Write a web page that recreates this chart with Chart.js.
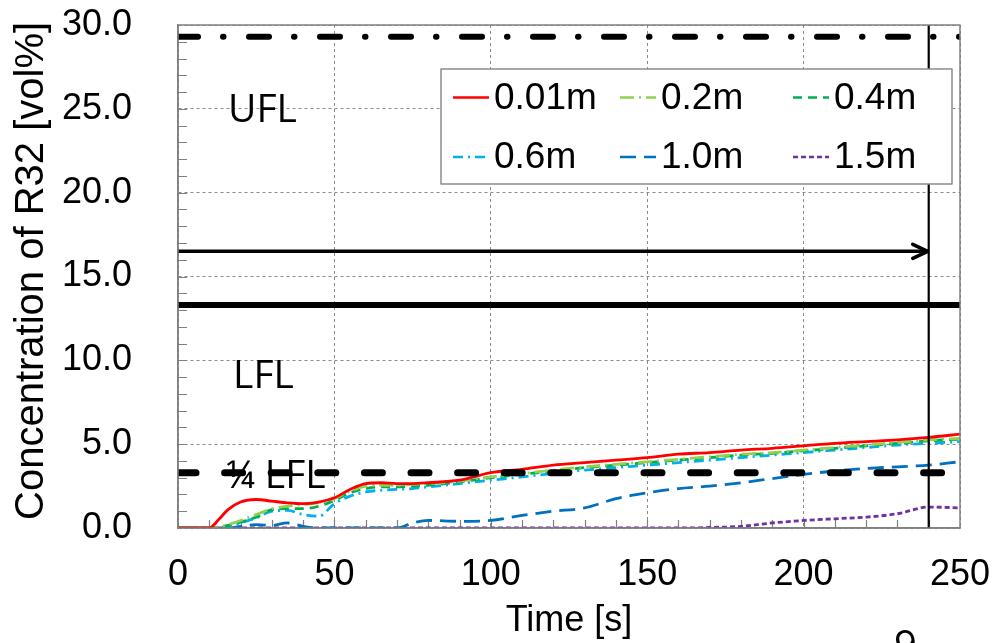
<!DOCTYPE html>
<html>
<head>
<meta charset="utf-8">
<script src="https://cdn.jsdelivr.net/npm/chart.js@4.4.1/dist/chart.umd.min.js"></script>
<style>
  html, body { margin: 0; padding: 0; background: #fff; }
</style>
</head>
<body>
<canvas id="chart" width="1005" height="643"></canvas>
<script>
// ─── data ────────────────────────────────────────────────────────────────────
const timeS = [0, 10, 13, 16, 20, 25, 30, 35, 40, 45, 50, 55, 60, 65, 70, 75, 80, 90, 100,
  110, 120, 130, 140, 150, 160, 170, 180, 190, 200, 210, 220, 230, 240, 250];

const c001 = [0, 0, 0.5, 1.1, 1.55, 1.7, 1.6, 1.5, 1.45, 1.55, 1.8, 2.3, 2.65, 2.7, 2.65, 2.65, 2.7, 2.85, 3.3,
  3.5, 3.75, 3.9, 4.05, 4.2, 4.4, 4.5, 4.65, 4.75, 4.9, 5.05, 5.15, 5.25, 5.4, 5.6];
const c02 = [0, 0, 0.05, 0.2, 0.45, 0.8, 1.15, 1.3, 1.4, 1.5, 1.75, 2.2, 2.5, 2.55, 2.55, 2.6, 2.65, 2.8, 3.05,
  3.25, 3.45, 3.65, 3.8, 3.95, 4.1, 4.25, 4.4, 4.5, 4.65, 4.8, 4.95, 5.1, 5.25, 5.35];
const c04 = [0, 0, 0.05, 0.15, 0.35, 0.65, 1.1, 1.15, 1.15, 1.3, 1.65, 2.1, 2.35, 2.45, 2.45, 2.5, 2.55, 2.75, 3.0,
  3.2, 3.4, 3.6, 3.75, 3.9, 4.05, 4.2, 4.35, 4.45, 4.6, 4.75, 4.9, 5.05, 5.2, 5.3];
const c06 = [0, 0, 0, 0.05, 0.3, 0.6, 1.0, 1.05, 0.8, 0.7, 1.45, 1.9, 2.15, 2.25, 2.3, 2.35, 2.45, 2.65, 2.85,
  3.05, 3.25, 3.45, 3.6, 3.75, 3.9, 4.05, 4.2, 4.35, 4.5, 4.65, 4.8, 4.95, 5.05, 5.15];
const c10 = [0, 0, 0, 0, 0.1, 0.2, 0.15, 0.3, 0.1, 0, 0, 0, 0, 0, 0, 0.3, 0.45, 0.4, 0.45,
  0.75, 1.0, 1.2, 1.75, 2.1, 2.35, 2.5, 2.7, 2.95, 3.2, 3.4, 3.55, 3.65, 3.75, 3.95];
const c15 = [0, 0, 0, 0, 0, 0, 0, 0, 0, 0, 0, 0, 0, 0, 0, 0, 0, 0, 0,
  0, 0, 0, 0, 0, 0, 0.03, 0.1, 0.3, 0.45, 0.55, 0.65, 0.85, 1.25, 1.2];

const seriesLabels = ['0.01m', '0.2m', '0.4m', '0.6m', '1.0m', '1.5m'];
const seriesVals = [c001, c02, c04, c06, c10, c15];

const uflLevel = 29.3;      // UFL
const lflLevel = 13.3;      // LFL
const quarterLfl = 3.3;     // 1/4 LFL
const arrowLevel = 16.5;
const markerTime = 240;
const xMax = 250, yMax = 30;

const zoneLabels = ['UFL', 'LFL', '¼ LFL'];

// ─── styles ──────────────────────────────────────────────────────────────────
const FONT = '"Liberation Sans", Arial, sans-serif';
const seriesStyle = [
  { color: '#ff0000', dash: [] },
  { color: '#92d050', dash: [14, 5, 2, 5] },
  { color: '#00b050', dash: [9, 6] },
  { color: '#00b0f0', dash: [10, 5, 2, 5] },
  { color: '#0070c0', dash: [16, 8] },
  { color: '#7030a0', dash: [5, 3] },
];

const pts = vals => timeS.map((t, i) => ({ x: t, y: vals[i] }));

const datasets = seriesLabels.map((lab, i) => ({
  label: lab,
  data: pts(seriesVals[i]),
  borderColor: seriesStyle[i].color,
  borderDash: seriesStyle[i].dash,
  borderWidth: 2.8,
  pointRadius: 0,
  cubicInterpolationMode: 'monotone',
  fill: false,
  order: 2,
  isSeries: true,
}));

function refLine(label, data, width, dash, cap) {
  return { label, data, borderColor: '#000', borderWidth: width, borderDash: dash,
    borderCapStyle: cap || 'butt', pointRadius: 0, fill: false, order: 1 };
}
datasets.push(refLine('UFL', [{ x: 0, y: uflLevel }, { x: xMax, y: uflLevel }], 6, [20, 25, 0.5, 25.5], 'round'));
datasets.push(refLine('LFL', [{ x: 0, y: lflLevel }, { x: xMax, y: lflLevel }], 6, []));
datasets.push(refLine('quarter', [{ x: 0, y: quarterLfl }, { x: xMax, y: quarterLfl }], 7, [18, 28.6], 'round'));
datasets.push(refLine('arrow', [{ x: 0, y: arrowLevel }, { x: markerTime, y: arrowLevel }], 3.5, []));
datasets.push(refLine('marker', [{ x: markerTime, y: 0 }, { x: markerTime, y: yMax }], 2.2, []));
const ARROW_IDX = datasets.findIndex(d => d.label === 'arrow');

// ─── plugins ─────────────────────────────────────────────────────────────────
const whiteBg = {
  id: 'whiteBg',
  beforeDraw(chart) {
    const { ctx, width, height } = chart;
    ctx.save(); ctx.fillStyle = '#fff'; ctx.fillRect(0, 0, width, height); ctx.restore();
  }
};

// minor ticks (inside) + zone labels, under the lines
const underlay = {
  id: 'underlay',
  beforeDatasetsDraw(chart) {
    const { ctx, chartArea: a, scales: { x, y } } = chart;
    ctx.save();
    ctx.strokeStyle = '#7f7f7f'; ctx.lineWidth = 1.2;
    ctx.beginPath();
    for (let v = 1; v < yMax; v++) {
      const py = Math.round(y.getPixelForValue(v)) + 0.5;
      ctx.moveTo(a.left, py); ctx.lineTo(a.left + 9, py);
    }
    for (let t = 10; t < xMax; t += 10) {
      const px = Math.round(x.getPixelForValue(t)) + 0.5;
      ctx.moveTo(px, a.bottom); ctx.lineTo(px, a.bottom - 8);
    }
    ctx.stroke();

    ctx.fillStyle = '#000';
    ctx.font = '39px "Open Sans", "Noto Sans", sans-serif';
    ctx.textBaseline = 'alphabetic';
    const at = [[16, 24.2], [17.6, 8.35], [15.3, 2.4]];
    zoneLabels.forEach((s, i) => {
      ctx.fillText(s, x.getPixelForValue(at[i][0]), y.getPixelForValue(at[i][1]));
    });
    ctx.restore();
  }
};

const overlay = {
  id: 'overlay',
  afterDatasetsDraw(chart) {
    const { ctx, chartArea: a } = chart;
    ctx.save();
    // arrow head
    const meta = chart.getDatasetMeta(ARROW_IDX);
    const p = meta.data[meta.data.length - 1];
    ctx.strokeStyle = '#000'; ctx.lineWidth = 3.5; ctx.lineCap = 'round'; ctx.lineJoin = 'round';
    ctx.beginPath();
    ctx.moveTo(p.x - 16, p.y - 7); ctx.lineTo(p.x - 1, p.y); ctx.lineTo(p.x - 16, p.y + 7);
    ctx.stroke();

    // plot frame
    ctx.lineCap = 'butt';
    ctx.strokeStyle = '#808080'; ctx.lineWidth = 1.5;
    ctx.strokeRect(a.left, a.top, a.right - a.left, a.bottom - a.top);

    // legend box inside plot
    const bw = 511, bh = 115;
    const bx = a.right - 8 - bw, by = a.top + 44;
    ctx.fillStyle = '#fff';
    ctx.fillRect(bx, by, bw, bh);
    ctx.strokeStyle = '#8c8c8c'; ctx.lineWidth = 1.5;
    ctx.strokeRect(bx, by, bw, bh);
    const colX = [12, 179, 352], rowY = [28.5, 88];
    ctx.font = '37px ' + FONT;
    ctx.textBaseline = 'middle';
    ctx.fillStyle = '#000';
    chart.data.datasets.forEach((ds, i) => {
      if (!ds.isSeries) return;
      const cx = bx + colX[i % 3], cy = by + rowY[Math.floor(i / 3)];
      ctx.save();
      ctx.strokeStyle = ds.borderColor; ctx.lineWidth = 2.5;
      ctx.setLineDash(ds.borderDash);
      ctx.beginPath(); ctx.moveTo(cx, cy); ctx.lineTo(cx + 36, cy); ctx.stroke();
      ctx.restore();
      ctx.fillText(ds.label, cx + 41, cy + 1);
    });
    ctx.restore();
  },
  afterDraw(chart) {
    const { ctx } = chart;
    ctx.save();
    ctx.fillStyle = '#000';
    ctx.font = '40px "Open Sans", sans-serif';
    ctx.fillText('9', 894, 659);
    ctx.restore();
  }
};

// ─── chart ───────────────────────────────────────────────────────────────────
Chart.defaults.font.family = FONT;
Chart.defaults.color = '#000';

new Chart(document.getElementById('chart'), {
  type: 'line',
  data: { datasets },
  options: {
    responsive: false,
    animation: false,
    devicePixelRatio: 1,
    layout: { padding: { top: 25, right: 45, bottom: 0, left: 0 } },
    plugins: { legend: { display: false }, tooltip: { enabled: false } },
    scales: {
      x: {
        type: 'linear', min: 0, max: xMax,
        afterFit: s => { s.height = 115; },
        ticks: { stepSize: 50, padding: 0, maxRotation: 0, autoSkip: false, font: { size: 36 } },
        grid: { color: '#8a8a8a', lineWidth: 1, drawTicks: true, tickLength: 25, tickColor: 'rgba(0,0,0,0)' },
        border: { display: true, color: '#808080', width: 1.5, dash: [3, 3] },
        title: { display: true, text: 'Time [s]', font: { size: 36 }, padding: { top: 0, bottom: 0 } }
      },
      y: {
        type: 'linear', min: 0, max: yMax,
        afterFit: s => { s.width = 178; },
        ticks: { stepSize: 5, padding: 0, font: { size: 36 }, callback: v => v.toFixed(1) },
        grid: { color: '#8a8a8a', lineWidth: 1, drawTicks: true, tickLength: 46, tickColor: 'rgba(0,0,0,0)' },
        border: { display: true, color: '#808080', width: 1.5, dash: [3, 3] },
        title: { display: true, text: ' Concentration of R32 [vol%]', font: { size: 40 }, padding: { top: 8, bottom: 0 } }
      }
    }
  },
  plugins: [whiteBg, underlay, overlay]
});
</script>
</body>
</html>
